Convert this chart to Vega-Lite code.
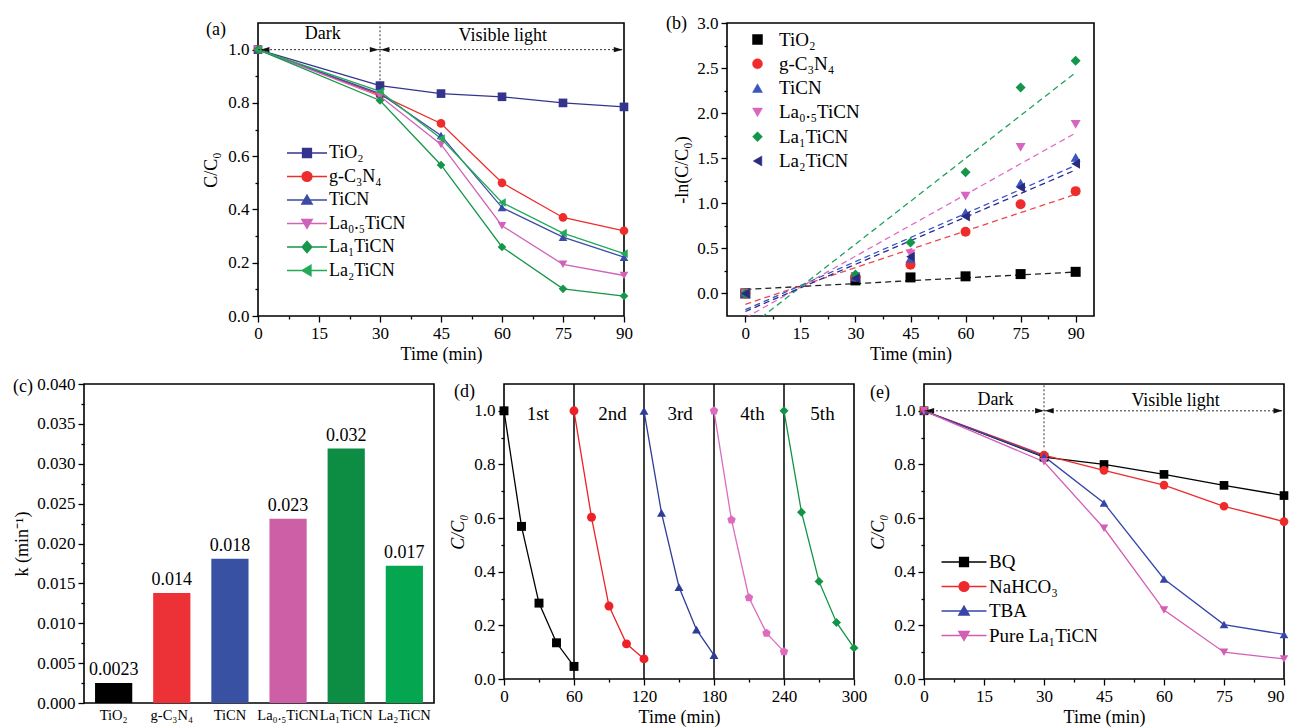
{
  "$schema": "https://vega.github.io/schema/vega-lite/v6.json",
  "background": "white",
  "padding": {"left": 12, "top": 13, "right": 0, "bottom": 0},
  "spacing": 10,
  "resolve": {"scale": {"color": "independent", "shape": "independent", "fill": "independent", "stroke": "independent"}},
  "datasets": {
    "a": [
      {"t":0,"c":1.0,"s":"TiO₂"},{"t":30,"c":0.865,"s":"TiO₂"},{"t":45,"c":0.835,"s":"TiO₂"},{"t":60,"c":0.823,"s":"TiO₂"},{"t":75,"c":0.8,"s":"TiO₂"},{"t":90,"c":0.785,"s":"TiO₂"},
      {"t":0,"c":1.0,"s":"g-C₃N₄"},{"t":30,"c":0.83,"s":"g-C₃N₄"},{"t":45,"c":0.723,"s":"g-C₃N₄"},{"t":60,"c":0.5,"s":"g-C₃N₄"},{"t":75,"c":0.37,"s":"g-C₃N₄"},{"t":90,"c":0.32,"s":"g-C₃N₄"},
      {"t":0,"c":1.0,"s":"TiCN"},{"t":30,"c":0.835,"s":"TiCN"},{"t":45,"c":0.678,"s":"TiCN"},{"t":60,"c":0.407,"s":"TiCN"},{"t":75,"c":0.296,"s":"TiCN"},{"t":90,"c":0.221,"s":"TiCN"},
      {"t":0,"c":1.0,"s":"La₀.₅TiCN"},{"t":30,"c":0.825,"s":"La₀.₅TiCN"},{"t":45,"c":0.644,"s":"La₀.₅TiCN"},{"t":60,"c":0.339,"s":"La₀.₅TiCN"},{"t":75,"c":0.194,"s":"La₀.₅TiCN"},{"t":90,"c":0.152,"s":"La₀.₅TiCN"},
      {"t":0,"c":1.0,"s":"La₁TiCN"},{"t":30,"c":0.809,"s":"La₁TiCN"},{"t":45,"c":0.567,"s":"La₁TiCN"},{"t":60,"c":0.259,"s":"La₁TiCN"},{"t":75,"c":0.102,"s":"La₁TiCN"},{"t":90,"c":0.075,"s":"La₁TiCN"},
      {"t":0,"c":1.0,"s":"La₂TiCN"},{"t":30,"c":0.843,"s":"La₂TiCN"},{"t":45,"c":0.666,"s":"La₂TiCN"},{"t":60,"c":0.426,"s":"La₂TiCN"},{"t":75,"c":0.311,"s":"La₂TiCN"},{"t":90,"c":0.234,"s":"La₂TiCN"}
    ],
    "a_rule": [{"x":0,"x2":30,"y":1,"y2":1},{"x":30,"x2":90,"y":1,"y2":1},{"x":30,"x2":30,"y":0.87,"y2":1.1}],
    "a_arrow": [{"x":1.7,"y":1,"d":"l"},{"x":28.6,"y":1,"d":"r"},{"x":31.2,"y":1,"d":"l"},{"x":88.6,"y":1,"d":"r"}],
    "a_text": [{"x":15.9,"y":1.058,"label":"Dark"},{"x":60.2,"y":1.052,"label":"Visible light"}],
    "b": [
      {"t":0,"v":0,"s":"TiO₂"},{"t":30,"v":0.145,"s":"TiO₂"},{"t":45,"v":0.178,"s":"TiO₂"},{"t":60,"v":0.19,"s":"TiO₂"},{"t":75,"v":0.215,"s":"TiO₂"},{"t":90,"v":0.24,"s":"TiO₂"},
      {"t":0,"v":0,"s":"g-C₃N₄"},{"t":30,"v":0.186,"s":"g-C₃N₄"},{"t":45,"v":0.318,"s":"g-C₃N₄"},{"t":60,"v":0.684,"s":"g-C₃N₄"},{"t":75,"v":0.99,"s":"g-C₃N₄"},{"t":90,"v":1.135,"s":"g-C₃N₄"},
      {"t":0,"v":0,"s":"TiCN"},{"t":30,"v":0.18,"s":"TiCN"},{"t":45,"v":0.39,"s":"TiCN"},{"t":60,"v":0.9,"s":"TiCN"},{"t":75,"v":1.225,"s":"TiCN"},{"t":90,"v":1.51,"s":"TiCN"},
      {"t":0,"v":0,"s":"La₀.₅TiCN"},{"t":30,"v":0.19,"s":"La₀.₅TiCN"},{"t":45,"v":0.44,"s":"La₀.₅TiCN"},{"t":60,"v":1.08,"s":"La₀.₅TiCN"},{"t":75,"v":1.62,"s":"La₀.₅TiCN"},{"t":90,"v":1.875,"s":"La₀.₅TiCN"},
      {"t":0,"v":0,"s":"La₁TiCN"},{"t":30,"v":0.21,"s":"La₁TiCN"},{"t":45,"v":0.566,"s":"La₁TiCN"},{"t":60,"v":1.345,"s":"La₁TiCN"},{"t":75,"v":2.285,"s":"La₁TiCN"},{"t":90,"v":2.58,"s":"La₁TiCN"},
      {"t":0,"v":0,"s":"La₂TiCN"},{"t":30,"v":0.168,"s":"La₂TiCN"},{"t":45,"v":0.408,"s":"La₂TiCN"},{"t":60,"v":0.855,"s":"La₂TiCN"},{"t":75,"v":1.175,"s":"La₂TiCN"},{"t":90,"v":1.44,"s":"La₂TiCN"}
    ],
    "b_fit": [
      {"t":0,"v":0.045,"s":"TiO₂"},{"t":90,"v":0.238,"s":"TiO₂"},
      {"t":0,"v":-0.12,"s":"g-C₃N₄"},{"t":90,"v":1.1,"s":"g-C₃N₄"},
      {"t":0,"v":-0.18,"s":"TiCN"},{"t":90,"v":1.42,"s":"TiCN"},
      {"t":0,"v":-0.27,"s":"La₀.₅TiCN"},{"t":90,"v":1.78,"s":"La₀.₅TiCN"},
      {"t":0,"v":-0.405,"s":"La₁TiCN"},{"t":90,"v":2.45,"s":"La₁TiCN"},
      {"t":0,"v":-0.2,"s":"La₂TiCN"},{"t":90,"v":1.37,"s":"La₂TiCN"}
    ],
    "c": [
      {"cat":"TiO₂","k":0.0025,"lab":"0.0023"},
      {"cat":"g-C₃N₄","k":0.0138,"lab":"0.014"},
      {"cat":"TiCN","k":0.0181,"lab":"0.018"},
      {"cat":"La₀.₅TiCN","k":0.0231,"lab":"0.023"},
      {"cat":"La₁TiCN","k":0.0319,"lab":"0.032"},
      {"cat":"La₂TiCN","k":0.0172,"lab":"0.017"}
    ],
    "d": [
      {"t":0,"c":1.0,"n":"1"},{"t":15,"c":0.569,"n":"1"},{"t":30,"c":0.283,"n":"1"},{"t":45,"c":0.135,"n":"1"},{"t":60,"c":0.047,"n":"1"},
      {"t":60,"c":1.0,"n":"2"},{"t":75,"c":0.603,"n":"2"},{"t":90,"c":0.272,"n":"2"},{"t":105,"c":0.131,"n":"2"},{"t":120,"c":0.075,"n":"2"},
      {"t":120,"c":1.0,"n":"3"},{"t":135,"c":0.619,"n":"3"},{"t":150,"c":0.343,"n":"3"},{"t":165,"c":0.184,"n":"3"},{"t":180,"c":0.089,"n":"3"},
      {"t":180,"c":1.0,"n":"4"},{"t":195,"c":0.593,"n":"4"},{"t":210,"c":0.303,"n":"4"},{"t":225,"c":0.171,"n":"4"},{"t":240,"c":0.102,"n":"4"},
      {"t":240,"c":1.0,"n":"5"},{"t":255,"c":0.622,"n":"5"},{"t":270,"c":0.364,"n":"5"},{"t":285,"c":0.211,"n":"5"},{"t":300,"c":0.116,"n":"5"}
    ],
    "d_cut": [{"t":60},{"t":120},{"t":180},{"t":240}],
    "d_text": [{"t":29,"c":0.99,"label":"1st"},{"t":93,"c":0.99,"label":"2nd"},{"t":151,"c":0.99,"label":"3rd"},{"t":213,"c":0.99,"label":"4th"},{"t":273,"c":0.99,"label":"5th"}],
    "e": [
      {"t":0,"c":1.0,"s":"BQ"},{"t":30,"c":0.827,"s":"BQ"},{"t":45,"c":0.8,"s":"BQ"},{"t":60,"c":0.763,"s":"BQ"},{"t":75,"c":0.722,"s":"BQ"},{"t":90,"c":0.684,"s":"BQ"},
      {"t":0,"c":1.0,"s":"NaHCO₃"},{"t":30,"c":0.835,"s":"NaHCO₃"},{"t":45,"c":0.778,"s":"NaHCO₃"},{"t":60,"c":0.723,"s":"NaHCO₃"},{"t":75,"c":0.644,"s":"NaHCO₃"},{"t":90,"c":0.587,"s":"NaHCO₃"},
      {"t":0,"c":1.0,"s":"TBA"},{"t":30,"c":0.83,"s":"TBA"},{"t":45,"c":0.656,"s":"TBA"},{"t":60,"c":0.373,"s":"TBA"},{"t":75,"c":0.203,"s":"TBA"},{"t":90,"c":0.166,"s":"TBA"},
      {"t":0,"c":1.0,"s":"Pure La₁TiCN"},{"t":30,"c":0.81,"s":"Pure La₁TiCN"},{"t":45,"c":0.562,"s":"Pure La₁TiCN"},{"t":60,"c":0.257,"s":"Pure La₁TiCN"},{"t":75,"c":0.1,"s":"Pure La₁TiCN"},{"t":90,"c":0.075,"s":"Pure La₁TiCN"}
    ],
    "e_rule": [{"x":0,"x2":30,"y":1,"y2":1},{"x":30,"x2":90,"y":1,"y2":1},{"x":30,"x2":30,"y":0.864,"y2":1.1}],
    "e_arrow": [{"x":1.4,"y":1,"d":"l"},{"x":28.9,"y":1,"d":"r"},{"x":31.3,"y":1,"d":"l"},{"x":88.5,"y":1,"d":"r"}],
    "e_text": [{"x":17.9,"y":1.039,"label":"Dark"},{"x":62.9,"y":1.037,"label":"Visible light"}]
  },
  "vconcat": [
    {
      "bounds": "flush",
      "spacing": 103,
      "resolve": {"scale": {"color": "independent", "shape": "independent", "fill": "independent", "stroke": "independent"}},
      "hconcat": [
        {"width": 71, "height": 10, "view": {"stroke": null}, "data": {"values": []}, "mark": {"type": "point", "opacity": 0}, "encoding": {}},
        {
          "width": 366, "height": 293,
          "title": {"text": "(a)", "anchor": "start", "frame": "group", "offset": 0, "dx": -52, "dy": 16, "baseline": "top"},
          "resolve": {"scale": {"shape": "independent", "fill": "independent", "stroke": "independent"}},
          "layer": [
            {
              "data": {"name": "a"},
              "mark": {"type": "line", "strokeWidth": 1.3},
              "encoding": {
                "x": {"field": "t", "type": "quantitative", "scale": {"domain": [0, 90], "nice": false, "zero": false},
                      "axis": {"title": "Time (min)", "tickCount": 100, "values": [0,7.5,15,22.5,30,37.5,45,52.5,60,67.5,75,82.5,90], "labelExpr": "datum.value % 15 == 0 ? format(datum.value, 'd') : ''", "tickSize": {"condition": {"test": "datum.value % 15 == 0", "value": 6}, "value": 3}, "labelFlush": false, "labelOverlap": false, "titlePadding": 4}},
                "y": {"field": "c", "type": "quantitative", "scale": {"domain": [0, 1.1], "nice": false},
                      "axis": {"title": "C/C₀", "tickCount": 100, "values": [0,0.1,0.2,0.3,0.4,0.5,0.6,0.7,0.8,0.9,1.0], "labelExpr": "round(datum.value*10) % 2 == 0 ? format(datum.value, '.1f') : ''", "tickSize": {"condition": {"test": "round(datum.value*10) % 2 == 0", "value": 6}, "value": 3}, "labelOverlap": false, "titlePadding": 7}},
                "color": {"field": "s", "type": "nominal", "scale": {"domain": ["TiO₂","g-C₃N₄","TiCN","La₀.₅TiCN","La₁TiCN","La₂TiCN"], "range": ["#34348e","#ee2c2c","#3c4aa8","#d062b8","#16964a","#22aa58"]}, "legend": null}
              }
            },
            {
              "data": {"name": "a"},
              "mark": {"type": "point", "filled": true, "size": 75, "opacity": 1},
              "encoding": {
                "x": {"field": "t", "type": "quantitative"},
                "y": {"field": "c", "type": "quantitative"},
                "color": {"field": "s", "type": "nominal", "scale": {"domain": ["TiO₂","g-C₃N₄","TiCN","La₀.₅TiCN","La₁TiCN","La₂TiCN"], "range": ["#34348e","#ee2c2c","#3c4aa8","#d062b8","#16964a","#22aa58"]}, "legend": null},
                "shape": {"field": "s", "type": "nominal", "scale": {"domain": ["TiO₂","g-C₃N₄","TiCN","La₀.₅TiCN","La₁TiCN","La₂TiCN"], "range": ["square","circle","triangle-up","triangle-down","diamond","triangle-left"]}, "legend": null}
              }
            },
            {
              "data": {"name": "a_rule"},
              "mark": {"type": "rule", "strokeDash": [2, 2], "strokeWidth": 1, "color": "#333333"},
              "encoding": {"x": {"field": "x", "type": "quantitative"}, "x2": {"field": "x2"}, "y": {"field": "y", "type": "quantitative"}, "y2": {"field": "y2"}}
            },
            {
              "data": {"name": "a_arrow"},
              "transform": [{"filter": "datum.d == 'l'"}],
              "mark": {"type": "point", "shape": "M-1,0L1,-0.6L1,0.6Z", "filled": true, "color": "#111111", "size": 81, "opacity": 1},
              "encoding": {"x": {"field": "x", "type": "quantitative"}, "y": {"field": "y", "type": "quantitative"}}
            },
            {
              "data": {"name": "a_arrow"},
              "transform": [{"filter": "datum.d == 'r'"}],
              "mark": {"type": "point", "shape": "M1,0L-1,-0.6L-1,0.6Z", "filled": true, "color": "#111111", "size": 81, "opacity": 1},
              "encoding": {"x": {"field": "x", "type": "quantitative"}, "y": {"field": "y", "type": "quantitative"}}
            },
            {
              "data": {"name": "a_text"},
              "mark": {"type": "text", "fontSize": 18, "baseline": "middle"},
              "encoding": {"x": {"field": "x", "type": "quantitative"}, "y": {"field": "y", "type": "quantitative"}, "text": {"field": "label"}}
            },
            {
              "data": {"values": []},
              "mark": {"type": "point", "filled": true, "opacity": 1},
              "encoding": {
                "fill": {"field": "s", "type": "nominal", "scale": {"domain": ["TiO₂","g-C₃N₄","TiCN","La₀.₅TiCN","La₁TiCN","La₂TiCN"], "range": ["#34348e","#ee2c2c","#3c4aa8","#d062b8","#16964a","#22aa58"]},
                         "legend": {"orient": "none", "legendX": 40, "legendY": 121, "title": null, "padding": 0, "symbolSize": 256, "symbolStrokeWidth": 1.3, "labelFontSize": 18, "labelOffset": 13, "rowPadding": 5.5, "labelLimit": 300}},
                "stroke": {"field": "s", "type": "nominal", "scale": {"domain": ["TiO₂","g-C₃N₄","TiCN","La₀.₅TiCN","La₁TiCN","La₂TiCN"], "range": ["#34348e","#ee2c2c","#3c4aa8","#d062b8","#16964a","#22aa58"]},
                         "legend": {"orient": "none", "legendX": 40, "legendY": 121, "title": null, "padding": 0, "symbolSize": 256, "symbolStrokeWidth": 1.3, "labelFontSize": 18, "labelOffset": 13, "rowPadding": 5.5, "labelLimit": 300}},
                "shape": {"field": "s", "type": "nominal", "scale": {"domain": ["TiO₂","g-C₃N₄","TiCN","La₀.₅TiCN","La₁TiCN","La₂TiCN"], "range": [
                            "M-2.5,0H2.5M-0.56,-0.56H0.56V0.56H-0.56Z",
                            "M-2.5,0H2.5M-0.62,0A0.62,0.62,0,1,0,0.62,0A0.62,0.62,0,1,0,-0.62,0Z",
                            "M-2.5,0H2.5M0,-0.62L0.66,0.5L-0.66,0.5Z",
                            "M-2.5,0H2.5M0,0.62L0.66,-0.5L-0.66,-0.5Z",
                            "M-2.5,0H2.5M0,-0.72L0.62,0L0,0.72L-0.62,0Z",
                            "M-2.5,0H2.5M-0.62,0L0.5,-0.66L0.5,0.66Z"]},
                         "legend": {"orient": "none", "legendX": 40, "legendY": 121, "title": null, "padding": 0, "symbolSize": 256, "symbolStrokeWidth": 1.3, "labelFontSize": 18, "labelOffset": 13, "rowPadding": 5.5, "labelLimit": 300}}
              }
            }
          ]
        },
        {
          "width": 367, "height": 293,
          "title": {"text": "(b)", "anchor": "start", "frame": "group", "offset": 0, "dx": -61, "dy": 19, "baseline": "top"},
          "resolve": {"scale": {"shape": "independent", "fill": "independent", "stroke": "independent"}},
          "layer": [
            {
              "data": {"name": "b_fit"},
              "mark": {"type": "line", "strokeWidth": 1.3, "strokeDash": [6, 4], "clip": true},
              "encoding": {
                "x": {"field": "t", "type": "quantitative", "scale": {"domain": [-5, 95], "nice": false, "zero": false},
                      "axis": {"title": "Time (min)", "tickCount": 100, "values": [0,7.5,15,22.5,30,37.5,45,52.5,60,67.5,75,82.5,90], "labelExpr": "datum.value % 15 == 0 ? format(datum.value, 'd') : ''", "tickSize": {"condition": {"test": "datum.value % 15 == 0", "value": 6}, "value": 3}, "labelFlush": false, "labelOverlap": false, "titlePadding": 4}},
                "y": {"field": "v", "type": "quantitative", "scale": {"domain": [-0.25, 3.0], "nice": false, "zero": false},
                      "axis": {"title": "-ln(C/C₀)", "tickCount": 100, "values": [0,0.25,0.5,0.75,1.0,1.25,1.5,1.75,2.0,2.25,2.5,2.75,3.0], "labelExpr": "round(datum.value*4) % 2 == 0 ? format(datum.value, '.1f') : ''", "tickSize": {"condition": {"test": "round(datum.value*4) % 2 == 0", "value": 6}, "value": 3}, "labelOverlap": false, "titlePadding": 5}},
                "stroke": {"field": "s", "type": "nominal", "scale": {"domain": ["TiO₂","g-C₃N₄","TiCN","La₀.₅TiCN","La₁TiCN","La₂TiCN"], "range": ["#222222","#f04848","#3552c8","#dd6ec8","#1ea35a","#2c2c90"]}, "legend": null}
              }
            },
            {
              "data": {"name": "b"},
              "mark": {"type": "point", "filled": true, "size": 100, "opacity": 1},
              "encoding": {
                "x": {"field": "t", "type": "quantitative"},
                "y": {"field": "v", "type": "quantitative"},
                "color": {"field": "s", "type": "nominal", "scale": {"domain": ["TiO₂","g-C₃N₄","TiCN","La₀.₅TiCN","La₁TiCN","La₂TiCN"], "range": ["#000000","#ee2c2c","#3b55bd","#d865c0","#12964a","#2a2a80"]}, "legend": null},
                "shape": {"field": "s", "type": "nominal", "scale": {"domain": ["TiO₂","g-C₃N₄","TiCN","La₀.₅TiCN","La₁TiCN","La₂TiCN"], "range": ["square","circle","triangle-up","triangle-down","diamond","triangle-left"]}, "legend": null}
              }
            },
            {
              "data": {"values": []},
              "mark": {"type": "point", "filled": true, "opacity": 1},
              "encoding": {
                "fill": {"field": "s", "type": "nominal", "scale": {"domain": ["TiO₂","g-C₃N₄","TiCN","La₀.₅TiCN","La₁TiCN","La₂TiCN"], "range": ["#000000","#ee2c2c","#3b55bd","#d865c0","#12964a","#2a2a80"]},
                         "legend": {"orient": "none", "legendX": 21, "legendY": 7, "title": null, "padding": 0, "symbolSize": 100, "symbolStrokeWidth": 0.5, "labelFontSize": 19, "labelOffset": 12, "rowPadding": 4.3, "labelLimit": 300}},
                "stroke": {"field": "s", "type": "nominal", "scale": {"domain": ["TiO₂","g-C₃N₄","TiCN","La₀.₅TiCN","La₁TiCN","La₂TiCN"], "range": ["#000000","#ee2c2c","#3b55bd","#d865c0","#12964a","#2a2a80"]},
                         "legend": {"orient": "none", "legendX": 21, "legendY": 7, "title": null, "padding": 0, "symbolSize": 100, "symbolStrokeWidth": 0.5, "labelFontSize": 19, "labelOffset": 12, "rowPadding": 4.3, "labelLimit": 300}},
                "shape": {"field": "s", "type": "nominal", "scale": {"domain": ["TiO₂","g-C₃N₄","TiCN","La₀.₅TiCN","La₁TiCN","La₂TiCN"], "range": ["square","circle","triangle-up","triangle-down","diamond","triangle-left"]},
                         "legend": {"orient": "none", "legendX": 21, "legendY": 7, "title": null, "padding": 0, "symbolSize": 100, "symbolStrokeWidth": 0.5, "labelFontSize": 19, "labelOffset": 12, "rowPadding": 4.3, "labelLimit": 300}}
              }
            }
          ]
        }
      ]
    },
    {
      "bounds": "flush",
      "spacing": 70,
      "resolve": {"scale": {"color": "independent", "shape": "independent", "fill": "independent", "stroke": "independent"}},
      "hconcat": [
        {
          "width": 350, "height": 319,
          "title": {"text": "(c)", "anchor": "start", "frame": "group", "offset": 0, "dx": -71, "dy": 21, "baseline": "top"},
          "data": {"name": "c"},
          "layer": [
            {
              "mark": {"type": "bar"},
              "encoding": {
                "x": {"field": "cat", "type": "nominal", "sort": null, "scale": {"paddingInner": 0.36, "paddingOuter": 0.19},
                      "axis": {"title": null, "labelAngle": 0, "ticks": false, "labelPadding": 5, "labelOverlap": false, "labelLimit": 200, "labelFontSize": 14.5}},
                "y": {"field": "k", "type": "quantitative", "scale": {"domain": [0, 0.04], "nice": false},
                      "axis": {"title": "k (min⁻¹)", "tickCount": 100, "values": [0,0.0025,0.005,0.0075,0.01,0.0125,0.015,0.0175,0.02,0.0225,0.025,0.0275,0.03,0.0325,0.035,0.0375,0.04], "labelExpr": "round(datum.value*400) % 2 == 0 ? format(datum.value, '.3f') : ''", "tickSize": {"condition": {"test": "round(datum.value*400) % 2 == 0", "value": 6}, "value": 3}, "labelOverlap": false, "titlePadding": 5}},
                "color": {"field": "cat", "type": "nominal", "sort": null, "scale": {"domain": ["TiO₂","g-C₃N₄","TiCN","La₀.₅TiCN","La₁TiCN","La₂TiCN"], "range": ["#000000","#ed3237","#3951a2","#cd5fa6","#0d8c44","#04a64f"]}, "legend": null}
              }
            },
            {
              "mark": {"type": "text", "baseline": "bottom", "dy": -4, "fontSize": 18},
              "encoding": {
                "x": {"field": "cat", "type": "nominal", "sort": null},
                "y": {"field": "k", "type": "quantitative"},
                "text": {"field": "lab"}
              }
            }
          ]
        },
        {
          "width": 350, "height": 295,
          "title": {"text": "(d)", "anchor": "start", "frame": "group", "offset": 0, "dx": -50, "dy": 18, "baseline": "top"},
          "layer": [
            {
              "data": {"name": "d_cut"},
              "mark": {"type": "rule", "strokeWidth": 1.5, "color": "#000000"},
              "encoding": {
                "x": {"field": "t", "type": "quantitative", "scale": {"domain": [0, 300], "nice": false},
                      "axis": {"title": "Time (min)", "tickCount": 100, "values": [0,30,60,90,120,150,180,210,240,270,300], "labelExpr": "datum.value % 60 == 0 ? format(datum.value, 'd') : ''", "tickSize": {"condition": {"test": "datum.value % 60 == 0", "value": 6}, "value": 3}, "labelFlush": false, "labelOverlap": false, "titlePadding": 4}}
              }
            },
            {
              "data": {"name": "d_text"},
              "mark": {"type": "text", "fontSize": 19, "baseline": "middle"},
              "encoding": {
                "x": {"field": "t", "type": "quantitative"},
                "y": {"field": "c", "type": "quantitative", "scale": {"domain": [0, 1.1], "nice": false},
                      "axis": {"title": "C/C₀", "titleFontStyle": "italic", "tickCount": 100, "values": [0,0.1,0.2,0.3,0.4,0.5,0.6,0.7,0.8,0.9,1.0], "labelExpr": "round(datum.value*10) % 2 == 0 ? format(datum.value, '.1f') : ''", "tickSize": {"condition": {"test": "round(datum.value*10) % 2 == 0", "value": 6}, "value": 3}, "labelOverlap": false, "titlePadding": 6}},
                "text": {"field": "label"}
              }
            },
            {
              "data": {"name": "d"},
              "mark": {"type": "line", "strokeWidth": 1.3},
              "encoding": {
                "x": {"field": "t", "type": "quantitative"},
                "y": {"field": "c", "type": "quantitative"},
                "color": {"field": "n", "type": "nominal", "scale": {"domain": ["1","2","3","4","5"], "range": ["#000000","#ec2228","#2e3d98","#dc6cc0","#129447"]}, "legend": null}
              }
            },
            {
              "data": {"name": "d"},
              "mark": {"type": "point", "filled": true, "size": 80, "opacity": 1},
              "encoding": {
                "x": {"field": "t", "type": "quantitative"},
                "y": {"field": "c", "type": "quantitative"},
                "color": {"field": "n", "type": "nominal", "scale": {"domain": ["1","2","3","4","5"], "range": ["#000000","#ec2228","#2e3d98","#dc6cc0","#129447"]}, "legend": null},
                "shape": {"field": "n", "type": "nominal", "scale": {"domain": ["1","2","3","4","5"], "range": ["square","circle","triangle-up","M0,-1L0.951,-0.309L0.588,0.809L-0.588,0.809L-0.951,-0.309Z","diamond"]}, "legend": null}
              }
            }
          ]
        },
        {
          "width": 360, "height": 295,
          "title": {"text": "(e)", "anchor": "start", "frame": "group", "offset": 0, "dx": -54, "dy": 18, "baseline": "top"},
          "resolve": {"scale": {"shape": "independent", "fill": "independent", "stroke": "independent"}},
          "layer": [
            {
              "data": {"name": "e"},
              "mark": {"type": "line", "strokeWidth": 1.3},
              "encoding": {
                "x": {"field": "t", "type": "quantitative", "scale": {"domain": [0, 90], "nice": false, "zero": false},
                      "axis": {"title": "Time (min)", "tickCount": 100, "values": [0,7.5,15,22.5,30,37.5,45,52.5,60,67.5,75,82.5,90], "labelExpr": "datum.value % 15 == 0 ? format(datum.value, 'd') : ''", "tickSize": {"condition": {"test": "datum.value % 15 == 0", "value": 6}, "value": 3}, "labelAlign": {"condition": {"test": "datum.value == 90", "value": "right"}, "value": "center"}, "labelFlush": false, "labelOverlap": false, "titlePadding": 4}},
                "y": {"field": "c", "type": "quantitative", "scale": {"domain": [0, 1.1], "nice": false},
                      "axis": {"title": "C/C₀", "titleFontStyle": "italic", "tickCount": 100, "values": [0,0.1,0.2,0.3,0.4,0.5,0.6,0.7,0.8,0.9,1.0], "labelExpr": "round(datum.value*10) % 2 == 0 ? format(datum.value, '.1f') : ''", "tickSize": {"condition": {"test": "round(datum.value*10) % 2 == 0", "value": 6}, "value": 3}, "labelOverlap": false, "titlePadding": 6}},
                "color": {"field": "s", "type": "nominal", "scale": {"domain": ["BQ","NaHCO₃","TBA","Pure La₁TiCN"], "range": ["#000000","#ee2a2a","#3646a8","#d35eb5"]}, "legend": null}
              }
            },
            {
              "data": {"name": "e"},
              "mark": {"type": "point", "filled": true, "size": 75, "opacity": 1},
              "encoding": {
                "x": {"field": "t", "type": "quantitative"},
                "y": {"field": "c", "type": "quantitative"},
                "color": {"field": "s", "type": "nominal", "scale": {"domain": ["BQ","NaHCO₃","TBA","Pure La₁TiCN"], "range": ["#000000","#ee2a2a","#3646a8","#d35eb5"]}, "legend": null},
                "shape": {"field": "s", "type": "nominal", "scale": {"domain": ["BQ","NaHCO₃","TBA","Pure La₁TiCN"], "range": ["square","circle","triangle-up","triangle-down"]}, "legend": null}
              }
            },
            {
              "data": {"name": "e_rule"},
              "mark": {"type": "rule", "strokeDash": [2, 2], "strokeWidth": 1, "color": "#333333"},
              "encoding": {"x": {"field": "x", "type": "quantitative"}, "x2": {"field": "x2"}, "y": {"field": "y", "type": "quantitative"}, "y2": {"field": "y2"}}
            },
            {
              "data": {"name": "e_arrow"},
              "transform": [{"filter": "datum.d == 'l'"}],
              "mark": {"type": "point", "shape": "M-1,0L1,-0.6L1,0.6Z", "filled": true, "color": "#111111", "size": 81, "opacity": 1},
              "encoding": {"x": {"field": "x", "type": "quantitative"}, "y": {"field": "y", "type": "quantitative"}}
            },
            {
              "data": {"name": "e_arrow"},
              "transform": [{"filter": "datum.d == 'r'"}],
              "mark": {"type": "point", "shape": "M1,0L-1,-0.6L-1,0.6Z", "filled": true, "color": "#111111", "size": 81, "opacity": 1},
              "encoding": {"x": {"field": "x", "type": "quantitative"}, "y": {"field": "y", "type": "quantitative"}}
            },
            {
              "data": {"name": "e_text"},
              "mark": {"type": "text", "fontSize": 18, "baseline": "middle"},
              "encoding": {"x": {"field": "x", "type": "quantitative"}, "y": {"field": "y", "type": "quantitative"}, "text": {"field": "label"}}
            },
            {
              "data": {"values": []},
              "mark": {"type": "point", "filled": true, "opacity": 1},
              "encoding": {
                "fill": {"field": "s", "type": "nominal", "scale": {"domain": ["BQ","NaHCO₃","TBA","Pure La₁TiCN"], "range": ["#000000","#ee2a2a","#3646a8","#d35eb5"]},
                         "legend": {"orient": "none", "legendX": 30.5, "legendY": 168.5, "title": null, "padding": 0, "symbolSize": 256, "symbolStrokeWidth": 1.3, "labelFontSize": 19, "labelOffset": 15.5, "rowPadding": 4.5, "labelLimit": 300}},
                "stroke": {"field": "s", "type": "nominal", "scale": {"domain": ["BQ","NaHCO₃","TBA","Pure La₁TiCN"], "range": ["#000000","#ee2a2a","#3646a8","#d35eb5"]},
                         "legend": {"orient": "none", "legendX": 30.5, "legendY": 168.5, "title": null, "padding": 0, "symbolSize": 256, "symbolStrokeWidth": 1.3, "labelFontSize": 19, "labelOffset": 15.5, "rowPadding": 4.5, "labelLimit": 300}},
                "shape": {"field": "s", "type": "nominal", "scale": {"domain": ["BQ","NaHCO₃","TBA","Pure La₁TiCN"], "range": [
                            "M-2.81,0H2.81M-0.56,-0.56H0.56V0.56H-0.56Z",
                            "M-2.81,0H2.81M-0.62,0A0.62,0.62,0,1,0,0.62,0A0.62,0.62,0,1,0,-0.62,0Z",
                            "M-2.81,0H2.81M0,-0.62L0.66,0.5L-0.66,0.5Z",
                            "M-2.81,0H2.81M0,0.62L0.66,-0.5L-0.66,-0.5Z"]},
                         "legend": {"orient": "none", "legendX": 30.5, "legendY": 168.5, "title": null, "padding": 0, "symbolSize": 256, "symbolStrokeWidth": 1.3, "labelFontSize": 19, "labelOffset": 15.5, "rowPadding": 4.5, "labelLimit": 300}}
              }
            }
          ]
        }
      ]
    }
  ],
  "config": {
    "font": "Liberation Serif",
    "view": {"stroke": "#000000", "strokeWidth": 1.6},
    "axis": {"domain": false, "grid": false, "ticks": true, "tickColor": "#000000", "tickWidth": 1.3, "labelColor": "#000000", "labelFont": "Liberation Serif", "labelFontSize": 17, "labelPadding": 3, "labelOverlap": false, "titleFont": "Liberation Serif", "titleFontSize": 18, "titleFontWeight": "normal", "titleColor": "#000000"},
    "title": {"font": "Liberation Serif", "fontSize": 18, "fontWeight": "normal", "color": "#000000"},
    "legend": {"labelFont": "Liberation Serif", "labelColor": "#000000"},
    "text": {"font": "Liberation Serif", "color": "#000000"}
  }
}
